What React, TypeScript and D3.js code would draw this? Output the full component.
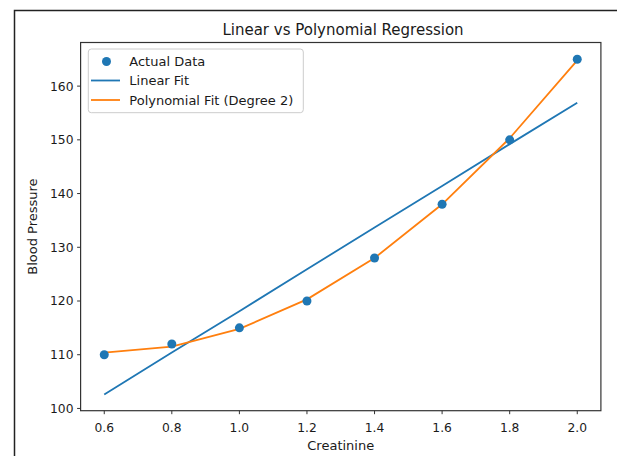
import React from "react";
import * as d3 from "d3";

const creatinine = [0.6, 0.8, 1.0, 1.2, 1.4, 1.6, 1.8, 2.0];
const bloodPressure = [110, 112, 115, 120, 128, 138, 150, 165];
const linearFit = [102.6, 110.4, 118.1, 125.9, 133.7, 141.4, 149.2, 156.9];
const polyFit = [110.4, 111.5, 114.8, 120.3, 128.0, 138.0, 150.3, 164.8];
const xTicks = [0.6, 0.8, 1.0, 1.2, 1.4, 1.6, 1.8, 2.0];
const yTicks = [100, 110, 120, 130, 140, 150, 160];
const legendLabels = ["Actual Data", "Linear Fit", "Polynomial Fit (Degree 2)"];

const W = 617;
const H = 456;
const L = 80.6, R = 600.9, T = 42.5, B = 410.7;
const BLUE = "#1f77b4";
const ORANGE = "#ff7f0e";
const FONT = "DejaVu Sans, sans-serif";
const TXT = "#1a1a1a";

export default function App() {
  const x = d3.scaleLinear().domain([0.53, 2.07]).range([L, R]);
  const y = d3.scaleLinear().domain([99.58, 168.12]).range([B, T]);
  const line = d3
    .line<[number, number]>()
    .x((d) => x(d[0]))
    .y((d) => y(d[1]));
  const linPts = creatinine.map((c, i) => [c, linearFit[i]] as [number, number]);
  const polyPts = creatinine.map((c, i) => [c, polyFit[i]] as [number, number]);

  return (
    <svg
      width={W}
      height={H}
      style={{ position: "absolute", left: 0, top: 0, background: "#fff" }}
      fontFamily={FONT}
    >
      <rect x={0} y={0} width={W} height={H} fill="#fff" />
      {/* outer frame */}
      <path d={`M14.5,${H} L14.5,10.5 L${W},10.5`} fill="none" stroke="#222" strokeWidth={1.5} />

      <text x={343} y={35} textAnchor="middle" fontSize={15} fill={TXT}>
        Linear vs Polynomial Regression
      </text>

      {/* lines */}
      <path d={line(linPts) || ""} fill="none" stroke={BLUE} strokeWidth={1.8} />
      <path d={line(polyPts) || ""} fill="none" stroke={ORANGE} strokeWidth={1.8} />
      {creatinine.map((c, i) => (
        <circle key={i} cx={x(c)} cy={y(bloodPressure[i])} r={4.5} fill={BLUE} />
      ))}

      {/* axes frame */}
      <rect x={L} y={T} width={R - L} height={B - T} fill="none" stroke="#333" strokeWidth={1.2} />

      {/* x ticks */}
      {xTicks.map((t) => (
        <g key={t}>
          <line x1={x(t)} x2={x(t)} y1={B} y2={B + 3.5} stroke="#333" strokeWidth={1} />
          <text x={x(t)} y={431.5} textAnchor="middle" fontSize={12.3} fill={TXT}>
            {t.toFixed(1)}
          </text>
        </g>
      ))}
      {/* y ticks */}
      {yTicks.map((t) => (
        <g key={t}>
          <line x1={L - 3.5} x2={L} y1={y(t)} y2={y(t)} stroke="#333" strokeWidth={1} />
          <text x={73.5} y={y(t) + 4.4} textAnchor="end" fontSize={12.3} fill={TXT}>
            {t}
          </text>
        </g>
      ))}

      <text x={(L + R) / 2} y={450} textAnchor="middle" fontSize={13} fill={TXT}>
        Creatinine
      </text>
      <text
        transform={`translate(37,${(T + B) / 2}) rotate(-90)`}
        textAnchor="middle"
        fontSize={13}
        fill={TXT}
      >
        Blood Pressure
      </text>

      {/* legend */}
      <rect x={88.3} y={49} width={215} height={63.7} rx={3} fill="#fff" fillOpacity={0.8} stroke="#ccc" strokeWidth={1} />
      <circle cx={106.5} cy={61.5} r={4.5} fill={BLUE} />
      <line x1={91} x2={120} y1={80.5} y2={80.5} stroke={BLUE} strokeWidth={1.8} />
      <line x1={91} x2={120} y1={100} y2={100} stroke={ORANGE} strokeWidth={1.8} />
      {legendLabels.map((lbl, i) => (
        <text key={lbl} x={129.3} y={66 + i * 19.3} fontSize={13} fill={TXT}>
          {lbl}
        </text>
      ))}
    </svg>
  );
}
